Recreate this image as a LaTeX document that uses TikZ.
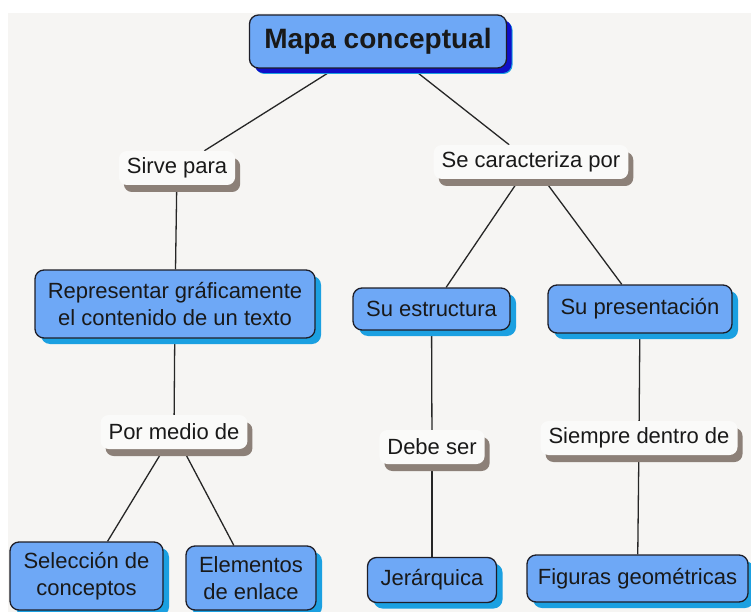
\documentclass[tikz,border=0pt]{standalone}
\usepackage{fontspec}
\setmainfont{Liberation Sans}
\usepackage{xcolor}
\usepackage{tikz}
\usetikzlibrary{positioning, shadows, backgrounds}
\definecolor{cBg}{RGB}{246,245,243}
\definecolor{cFill}{RGB}{110,168,246}
\definecolor{cShade}{RGB}{27,160,225}
\definecolor{cTitleShade}{RGB}{14,14,200}
\definecolor{cLinkShade}{RGB}{140,128,120}
\definecolor{cEdge}{RGB}{30,30,40}
\tikzset{
	concept/.style  ={rectangle, rounded corners=9pt, draw=cEdge, line width=1.3pt, fill=cFill, align=center, text=black!90, inner sep=0pt, font=\fontsize{22}{27}\selectfont, drop shadow={shadow xshift=6pt, shadow yshift=-6pt, fill=cShade, opacity=1}},
	mainconcept/.style={concept, font=\fontsize{28}{32}\selectfont\bfseries, drop shadow={shadow xshift=5pt, shadow yshift=-5pt, fill=cTitleShade, opacity=1}},
	linkbox/.style  ={rectangle, rounded corners=8pt, fill=cBg!50!white, inner xsep=8pt, inner ysep=0pt, minimum height=34pt, text=black!90, font=\fontsize{22}{27}\selectfont, drop shadow={shadow xshift=5pt, shadow yshift=-7pt, fill=cLinkShade, opacity=1}},
	tie/.style      ={line width=1.3pt, draw=black!85},
}
\begin{document}
\begin{tikzpicture}[x=1pt, y=-1pt]
	\useasboundingbox (0,0) rectangle (751,612);
	% top concept and linking phrases
	\node[mainconcept, minimum width=257pt, minimum height=53pt] (mapa) at (378,41.5) {Mapa conceptual};
	\node[linkbox] (sirve) at (177,168) {Sirve para};
	\node[linkbox] (carac) at (531,162) {Se caracteriza por};
	% left branch
	\node[concept, minimum width=280pt, minimum height=68pt] (rep) at (175,304) {Representar gráficamente\\el contenido de un texto};
	\node[linkbox] (medio) at (174,432) {Por medio de};
	\node[concept, minimum width=153pt, minimum height=68pt] (sel) at (86.5,576) {Selección de\\conceptos};
	\node[concept, minimum width=130pt, minimum height=64pt] (elem) at (251,578) {Elementos\\de enlace};
	% right branch
	\node[concept, minimum width=157pt, minimum height=42pt] (estr) at (431.5,309) {Su estructura};
	\node[concept, minimum width=184pt, minimum height=48pt] (pres) at (640,309) {Su presentación};
	\node[linkbox] (debe) at (432,447) {Debe ser};
	\node[linkbox] (siempre) at (639,438) {Siempre dentro de};
	\node[concept, minimum width=129pt, minimum height=45pt] (jer) at (432,580) {Jerárquica};
	\node[concept, minimum width=221pt, minimum height=47pt] (fig) at (637.5,578.5) {Figuras geométricas};
	\begin{scope}[on background layer]
		\fill[white] (0,0) rectangle (751,612);
		\fill[cBg] (8,13) rectangle (751,612);
		\draw[tie] (mapa) -- (sirve); \draw[tie] (mapa) -- (carac);
		\draw[tie] (sirve) -- (rep); \draw[tie] (rep) -- (medio);
		\draw[tie] (medio) -- (sel); \draw[tie] (medio) -- (elem);
		\draw[tie] (carac) -- (estr); \draw[tie] (carac) -- (pres);
		\draw[tie] (estr) -- (debe); \draw[tie] (debe) -- (jer);
		\draw[tie] (pres) -- (siempre); \draw[tie] (siempre) -- (fig);
	\end{scope}
\end{tikzpicture}
\end{document}
